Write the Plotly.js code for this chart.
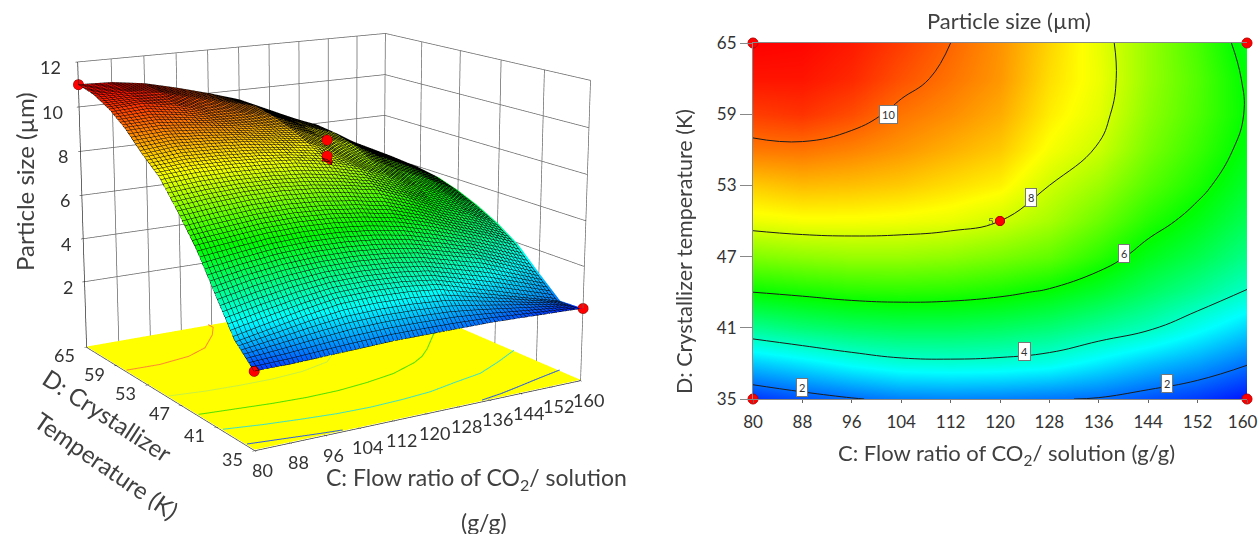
<!DOCTYPE html>
<html><head><meta charset="utf-8">
<script src="https://cdn.plot.ly/plotly-3.0.1.min.js"></script>
<style>html,body{margin:0;padding:0;background:#fff;overflow:hidden;width:1259px;height:534px}#chart{position:absolute;left:0;top:-583px;width:1259px;height:1606px}</style>
</head><body><div id="chart"></div>
<script>
const flowRatio = [80,88,96,104,112,120,128,136,144,152,160];
const crystTemp = [35,38,41,44,47,50,53,56,59,62,65];
// particle size; rows = crystTemp, columns = flowRatio
const row35 = [1.4,1.7,1.95,2.15,2.2,2.15,2.05,1.95,1.7,1.45,1.1];
const row38 = [2.9,3.2,3.55,3.8,3.85,3.8,3.65,3.25,2.85,2.5,2.05];
const row41 = [4.5,4.8,5.0,5.1,5.1,5.0,4.8,4.45,4.1,3.55,3.0];
const row44 = [6.0,6.15,6.3,6.35,6.3,6.15,5.9,5.5,5.0,4.5,3.95];
const row47 = [7.2,7.35,7.45,7.45,7.35,7.15,6.9,6.35,5.7,5.2,4.6];
const row50 = [8.3,8.4,8.4,8.35,8.25,8.0,7.6,7.0,6.3,5.75,5.1];
const row53 = [9.0,9.15,9.1,9.0,8.8,8.6,8.0,7.5,6.8,6.2,5.5];
const row56 = [9.8,9.85,9.7,9.5,9.25,9.0,8.4,7.95,7.15,6.5,5.8];
const row59 = [10.4,10.5,10.25,9.85,9.6,9.3,8.65,8.2,7.35,6.7,5.95];
const row62 = [10.8,10.8,10.6,10.2,9.85,9.5,8.8,8.3,7.45,6.75,5.9];
const row65 = [11.0,10.95,10.75,10.4,10.0,9.55,8.9,8.25,7.45,6.65,5.7];
const sizeGrid = [row35,row38,row41,row44,row47,row50,row53,row56,row59,row62,row65];
// the two lowest rows, where the front edge sits a little higher
const surfaceRow35 = [2.15,2.15,2.2,2.25,2.3,2.3,2.3,2.3,2.25,2.2,2.15];
const surfaceRow38 = [3.0,3.3,3.6,3.85,3.9,3.85,3.7,3.3,2.9,2.5,2.1];
const surfaceGrid = [surfaceRow35,surfaceRow38,row41,row44,row47,row50,row53,row56,row59,row62,row65];

const pointC = [80,160,80,160,120,120,120];
const pointD = [35,35,65,65,50,50,50];
const pointZ3d = [2.15,2.15,11.0,5.7,9.0,8.3,8.05];

// contour lines on the yellow floor of the 3D panel
const floor10C = [80,88,96,102,108,111,111];
const floor10D = [57,56.9,57.6,59,62,64,65];
const floor8C = [80,88,96,104,112,120,125,130,136,139,139.3,138];
const floor8D = [49.2,48.7,48.5,48.5,48.9,50,52,54,56.6,60,62,65];
const floor6C = [80,88,96,104,112,120,128,136,140,144,153,157,159,158.5,156];
const floor6D = [44,43.6,43.2,43,43.1,43.6,44.4,45.9,47,48.5,52.4,55,58.8,61,65];
const floor4C = [80,88,96,104,112,120,128,136,144,152,160];
const floor4D = [40,39.3,38.8,38.4,38.3,38.5,38.9,39.8,40.6,42.3,44.2];
const floor2aC = [80,88,96,100];
const floor2aD = [36.2,35.7,35.2,35];
const floor2bC = [134,140,147,152,160];
const floor2bD = [35,35.5,36.3,36.9,37.8];

const cTicks = [80,88,96,104,112,120,128,136,144,152,160];
const dTicks = [35,41,47,53,59,65];
const zTicks = [2,4,6,8,10,12];
const labelC = [88,147,124,140,125,102];
const labelD = [36,36.3,39,47.3,52,59];
const labelText = ['2','2','4','6','8','10'];

const H = 1606, OFF = 583;
const py = v => 1-(v+OFF)/H;
const FONT = 'Lato, "Open Sans", sans-serif';
const INK = '#333333';
const heat = [[0,'#0000ff'],[0.25,'#00ffff'],[0.5,'#00ff00'],[0.75,'#ffff00'],[1,'#ff0000']];
const zMin=0.9, zMax=11, floorZ=-1.1;

const axis3d = vals=>({showgrid:true,gridcolor:'#666',gridwidth:1.5,showbackground:false,
  showline:true,linecolor:'#333',linewidth:1.5,zeroline:false,showspikes:false,
  tickmode:'array',tickvals:vals,ticks:'outside',ticklen:2,tickcolor:'#111',showticklabels:false,title:{text:''}});

const tickAnn = (x,y,z,t,xs,ys)=>({x,y,z,text:String(t),showarrow:false,xshift:xs,yshift:ys,
  font:{family:FONT,size:18,color:INK}});

const floorLine = (cs,ds,color)=>({type:'scatter3d',mode:'lines',x:cs,y:ds,z:cs.map(()=>floorZ+0.08),
  line:{color,width:2},hoverinfo:'skip'});

const traces = [
 {type:'surface',x:flowRatio,y:crystTemp,z:sizeGrid.map(r=>r.map(()=>floorZ+0.04)),
  colorscale:[[0,'#ffff00'],[1,'#ffff00']],showscale:false,hoverinfo:'skip',
  lighting:{ambient:1,diffuse:0,specular:0,roughness:1,fresnel:0}},
 floorLine(floor10C,floor10D,'#ff8a30'),
 floorLine(floor8C,floor8D,'#c8f040'),
 floorLine(floor6C,floor6D,'#50e000'),
 floorLine(floor4C,floor4D,'#40e0c0'),
 floorLine(floor2aC,floor2aD,'#3060e0'),
 floorLine(floor2bC,floor2bD,'#3060e0'),
 {type:'surface',x:flowRatio,y:crystTemp,z:surfaceGrid,surfacecolor:sizeGrid,cmin:zMin,cmax:zMax,colorscale:heat,showscale:false,
  lighting:{ambient:1,diffuse:0,specular:0,roughness:1,fresnel:0},
  contours:{x:{show:true,start:80,end:160,size:1,color:'#000',width:2},
            y:{show:true,start:35,end:65,size:0.4,color:'#000',width:2}}},
 {type:'scatter3d',mode:'markers',x:pointC,y:pointD,z:pointZ3d,
  marker:{size:6,color:'#ff0000',line:{color:'#800000',width:1}}},
 {type:'contour',x:flowRatio,y:crystTemp,z:sizeGrid,xaxis:'x',yaxis:'y',zmin:zMin,zmax:zMax,zauto:false,
  colorscale:heat,showscale:false,line:{color:'#1c1c1c',width:1,smoothing:1.3},
  contours:{coloring:'heatmap',start:2,end:10,size:2,showlabels:false}},
 {type:'scatter',mode:'markers',x:pointC,y:pointD,xaxis:'x',yaxis:'y',cliponaxis:false,
  marker:{symbol:'circle',size:[10,10,10,10,9,9,9],color:'#ff0000',opacity:1,line:{color:'#c00000',width:1}}}
];

const sceneAnn = [
 ...cTicks.map(c=>tickAnn(c,35,floorZ,c,8,-19)),
 ...dTicks.map(d=>tickAnn(80,d,floorZ,d,-22,-8)),
 ...zTicks.map(z=>tickAnn(80,65,z,z,z>=10?-27:-17,-5))
];

const paperText = (x,y,t,size,angle)=>({xref:'paper',yref:'paper',x:x/1259,y:py(y),text:t,showarrow:false,
  xanchor:'center',yanchor:'middle',textangle:angle||0,font:{family:FONT,size,color:'#404040'}});

const layout = {
 width:1259,height:H,autosize:false,paper_bgcolor:'#fff',plot_bgcolor:'#fff',showlegend:false,
 margin:{l:0,r:0,t:0,b:0},
 scene:{domain:{x:[0,654/1259],y:[0,1]},
  xaxis:Object.assign(axis3d(cTicks),{range:[80,160]}),
  yaxis:Object.assign(axis3d(dTicks),{range:[35,65]}),
  zaxis:Object.assign(axis3d(zTicks),{range:[floorZ,12]}),
  aspectmode:'manual',aspectratio:{x:0.985,y:0.945,z:0.8},
  camera:{eye:{x:-2.62,y:-4.25,z:1.24},center:{x:0,y:0,z:0},up:{x:0,y:0,z:1},projection:{type:'perspective'}},
  annotations:sceneAnn},
 xaxis:{domain:[753/1259,1247/1259],range:[80,160],tickmode:'array',tickvals:cTicks,
  ticktext:cTicks.map(c=>c===160?'160\u00a0\u00a0':String(c)),ticks:'outside',ticklen:3,
  ticklabelstandoff:5,ticklabeloverflow:'allow',tickcolor:'#666',showline:true,linecolor:'#888',mirror:true,showgrid:false,zeroline:false,
  tickfont:{family:FONT,size:17,color:INK},anchor:'y',title:{text:''}},
 yaxis:{domain:[py(399),py(43)],range:[35,65],tickmode:'array',tickvals:dTicks,ticks:'outside',ticklen:12,
  tickcolor:'#888',showline:true,linecolor:'#888',showgrid:false,zeroline:false,
  tickfont:{family:FONT,size:17,color:INK},anchor:'x',title:{text:''}},
 annotations:[
  paperText(1009,21,'Particle size (µm)',22),
  paperText(1006,454,'C: Flow ratio of CO<sub>2</sub>/ solution (g/g)',22),
  paperText(684,251,'D: Crystallizer temperature (K)',21.5,-90),
  paperText(24,182,'Particle size (µm)',24,-90),
  paperText(476,478,'C: Flow ratio of CO<sub>2</sub>/ solution',23),
  paperText(484,522,'(g/g)',23),
  paperText(108,415,'D: Crystallizer',24,33),
  paperText(107,465,'Temperature (K)',24,34.6),
  ...labelC.map((c,i)=>({xref:'x',yref:'y',x:c,y:labelD[i],text:labelText[i],showarrow:false,
     bgcolor:'#fff',bordercolor:'#777',borderwidth:1,borderpad:2,font:{family:FONT,size:11,color:'#333'}})),
  {xref:'x',yref:'y',x:120,y:50,text:'5',showarrow:false,xshift:-9,font:{family:FONT,size:10,color:'#555'}}
 ]
};
Plotly.newPlot('chart',traces,layout,{displayModeBar:false});
</script></body></html>
